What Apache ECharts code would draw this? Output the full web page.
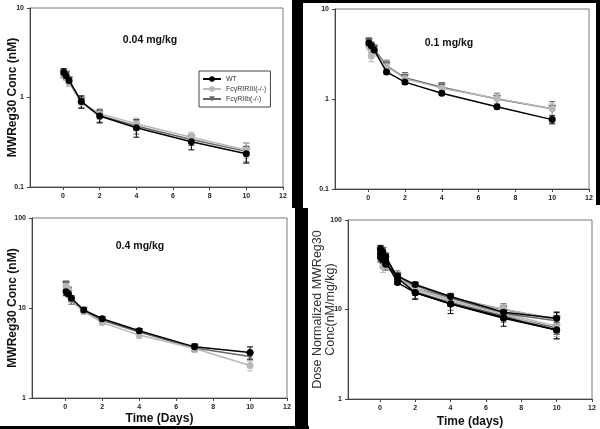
<!DOCTYPE html>
<html>
<head>
<meta charset="utf-8">
<script src="https://cdn.jsdelivr.net/npm/echarts@6/dist/echarts.min.js"></script>
<style>
html,body{margin:0;padding:0;background:#fff;}
#chart{width:600px;height:429px;}
</style>
</head>
<body>
<div id="chart"></div>
<script>
// ---- data ----
const times = [0.04, 0.17, 0.33, 1, 2, 4, 7, 10];
const xTicks = [0, 2, 4, 6, 8, 10, 12];
const seriesNames = ['WT', 'FcγRIRIII(-/-)', 'FcγRIIb(-/-)'];
const panelTitles = ['0.04 mg/kg', '0.1 mg/kg', '0.4 mg/kg', ''];

// 0.04 mg/kg
const wt004 = [1.9, 1.75, 1.55, 0.9, 0.62, 0.46, 0.32, 0.235];
const ri004 = [1.8, 1.7, 1.45, 0.88, 0.66, 0.51, 0.36, 0.26];
const rb004 = [1.85, 1.8, 1.55, 0.9, 0.63, 0.48, 0.34, 0.25];
const wt004Err = [0.2, 0.15, 0.12, 0.14, 0.1, 0.1, 0.06, 0.05];
const ri004Err = [0.15, 0.15, 0.12, 0.12, 0.09, 0.08, 0.05, 0.05];
const rb004Err = [0.18, 0.15, 0.15, 0.14, 0.1, 0.09, 0.05, 0.06];

// 0.1 mg/kg
const wt01 = [4.2, 3.9, 3.5, 2.0, 1.54, 1.16, 0.82, 0.59];
const ri01 = [3.9, 3.0, 3.4, 2.3, 1.68, 1.32, 1.01, 0.78];
const rb01 = [4.3, 3.8, 3.6, 2.35, 1.72, 1.35, 1.0, 0.78];
const wt01Err = [0.3, 0.3, 0.3, 0.1, 0.08, 0.06, 0.04, 0.06];
const ri01Err = [0.4, 0.4, 0.4, 0.3, 0.2, 0.15, 0.12, 0.12];
const rb01Err = [0.5, 0.5, 0.4, 0.35, 0.25, 0.17, 0.16, 0.16];

// 0.4 mg/kg
const wt04 = [15.2, 14.5, 12.8, 9.5, 7.6, 5.6, 3.7, 3.2];
const ri04 = [17.5, 16.0, 12.5, 9.1, 6.9, 5.0, 3.55, 2.3];
const rb04 = [18.0, 15.5, 12.0, 9.3, 7.3, 5.4, 3.6, 2.9];
const wt04Err = [1.5, 1.2, 1.0, 0.5, 0.4, 0.3, 0.3, 0.5];
const ri04Err = [2.0, 1.5, 1.0, 0.5, 0.4, 0.4, 0.35, 0.3];
const rb04Err = [2.0, 1.5, 1.0, 0.5, 0.4, 0.35, 0.3, 0.3];

// dose normalized (nM per mg/kg)
const wtN004 = [47, 44, 39, 22.5, 15.5, 11.5, 8.0, 5.9];
const riN004 = [45, 42, 36, 22, 16.5, 12.8, 9.0, 6.5];
const rbN004 = [46, 45, 39, 22.5, 15.8, 12.0, 8.5, 6.2];
const wtN01 = [42, 39, 35, 20, 15.4, 11.6, 8.2, 5.9];
const riN01 = [39, 30, 34, 23, 16.8, 13.2, 10.1, 7.8];
const rbN01 = [43, 38, 36, 23.5, 17.2, 13.5, 10.0, 7.8];
const wtN04 = [38, 36, 32, 23.7, 19, 14, 9.3, 8.0];
const riN04 = [44, 40, 31, 22.7, 17.3, 12.5, 8.9, 5.8];
const rbN04 = [45, 39, 30, 23, 18.5, 13.5, 9.0, 7.5];
const wtN004Err = [5, 4, 3, 2.5, 2.5, 2.5, 1.5, 1.2];
const riN004Err = [4, 4, 3, 2, 2, 2, 1.2, 1.0];
const rbN004Err = [4, 4, 3, 3, 2.5, 2.2, 1.3, 1.5];
const wtN01Err = [3, 3, 3, 1, 0.8, 0.6, 0.4, 0.6];
const riN01Err = [4, 4, 4, 3, 2, 1.5, 1.2, 1.2];
const rbN01Err = [5, 5, 4, 3.5, 2.5, 1.7, 1.6, 1.6];
const wtN04Err = [4, 3, 2.5, 1.2, 1.0, 0.8, 0.8, 1.3];
const riN04Err = [5, 4, 2.5, 1.2, 1.0, 1.0, 0.9, 0.8];
const rbN04Err = [5, 4, 2.5, 1.2, 1.0, 0.9, 0.8, 0.8];

// ---- styles ----
const colors = ['#000000', '#b8b8b8', '#666666'];
const symbols = ['circle', 'circle', 'triangle'];
const symRot = [0, 0, 180];
const symSizes = [7, 7, 8];

const panels = [
  {grid: {left: 30, top: 8, width: 253, height: 179}, ymin: 0.1, ymax: 10,
   groups: [[wt004, ri004, rb004, wt004Err, ri004Err, rb004Err]]},
  {grid: {left: 335, top: 9, width: 254, height: 180}, ymin: 0.1, ymax: 10,
   groups: [[wt01, ri01, rb01, wt01Err, ri01Err, rb01Err]]},
  {grid: {left: 32, top: 218, width: 255, height: 180}, ymin: 1, ymax: 100,
   groups: [[wt04, ri04, rb04, wt04Err, ri04Err, rb04Err]]},
  {grid: {left: 348, top: 220, width: 244, height: 179}, ymin: 1, ymax: 100,
   groups: [[wtN004, riN004, rbN004, wtN004Err, riN004Err, rbN004Err],
            [wtN01, riN01, rbN01, wtN01Err, riN01Err, rbN01Err],
            [wtN04, riN04, rbN04, wtN04Err, riN04Err, rbN04Err]]}
];

const tickFont = {fontSize: 7, fontWeight: 'bold', color: '#222', fontFamily: 'Liberation Sans'};

const grids = [], xAxes = [], yAxes = [], lineSeries = [], errSeries = [];
panels.forEach((p, gi) => {
  grids.push(Object.assign({show: true, borderColor: '#7a7a7a', borderWidth: 1, containLabel: false}, p.grid));
  xAxes.push({
    type: 'value', gridIndex: gi, min: -1.8, max: 12, nameMoveOverlap: false,
    axisLine: {show: true, onZero: false, lineStyle: {color: '#444', width: 1}},
    axisTick: {show: true, customValues: xTicks, length: 3, lineStyle: {color: '#444'}},
    axisLabel: Object.assign({customValues: xTicks, margin: 6}, tickFont),
    splitLine: {show: false}
  });
  yAxes.push({
    type: 'log', logBase: 10, gridIndex: gi, min: p.ymin, max: p.ymax, nameMoveOverlap: false,
    axisLine: {show: true, onZero: false, lineStyle: {color: '#444', width: 1}},
    axisTick: {show: true, length: 3, lineStyle: {color: '#444'}},
    minorTick: {show: false},
    axisLabel: Object.assign({margin: 6}, tickFont),
    splitLine: {show: false}
  });
  p.groups.forEach(g => {
    [2, 1, 0].forEach(k => {
      const vals = g[k], errs = g[k + 3];
      lineSeries.push({
        type: 'line', name: seriesNames[k], xAxisIndex: gi, yAxisIndex: gi,
        data: times.map((t, i) => [t, vals[i]]),
        symbol: symbols[k], symbolRotate: symRot[k], symbolSize: symSizes[k],
        showAllSymbol: true,
        lineStyle: {color: colors[k], width: 1.5},
        itemStyle: {color: colors[k], borderWidth: 0},
        z: k === 0 ? 5 : 3,
        animation: false
      });
      errSeries.push({
        type: 'custom', name: seriesNames[k] + ' SD', xAxisIndex: gi, yAxisIndex: gi,
        data: times.map((t, i) => [t, vals[i] - errs[i], vals[i] + errs[i]]),
        encode: {x: 0, y: [1, 2]},
        z: 2, silent: true, animation: false,
        renderItem: (params, api) => {
          const x = api.value(0);
          const lo = api.coord([x, api.value(1)]);
          const hi = api.coord([x, api.value(2)]);
          const w = 3;
          const st = {stroke: colors[k], lineWidth: 1};
          return {type: 'group', children: [
            {type: 'line', shape: {x1: lo[0], y1: lo[1], x2: hi[0], y2: hi[1]}, style: st},
            {type: 'line', shape: {x1: lo[0] - w, y1: lo[1], x2: lo[0] + w, y2: lo[1]}, style: st},
            {type: 'line', shape: {x1: hi[0] - w, y1: hi[1], x2: hi[0] + w, y2: hi[1]}, style: st}
          ]};
        }
      });
    });
  });
});

// axis titles
const yTitleStyle = {fontSize: 12, fontWeight: 'bold', color: '#111', fontFamily: 'Liberation Sans'};
yAxes[0].name = 'MWReg30 Conc (nM)';
yAxes[0].nameLocation = 'middle'; yAxes[0].nameGap = 11; yAxes[0].nameTextStyle = yTitleStyle;
yAxes[2].name = 'MWReg30 Conc (nM)';
yAxes[2].nameLocation = 'middle'; yAxes[2].nameGap = 13; yAxes[2].nameTextStyle = yTitleStyle;
yAxes[3].name = 'Dose Normalized MWReg30\nConc(nM/mg/kg)';
yAxes[3].nameLocation = 'middle'; yAxes[3].nameGap = 11;
yAxes[3].nameTextStyle = {fontSize: 12.5, color: '#333', lineHeight: 13, fontFamily: 'Liberation Sans'};
const xTitleStyle = {fontSize: 12, fontWeight: 'bold', color: '#111', fontFamily: 'Liberation Sans'};
xAxes[2].name = 'Time (Days)'; xAxes[2].nameLocation = 'middle'; xAxes[2].nameGap = 15; xAxes[2].nameTextStyle = xTitleStyle;
xAxes[3].name = 'Time (days)'; xAxes[3].nameLocation = 'middle'; xAxes[3].nameGap = 17; xAxes[3].nameTextStyle = xTitleStyle;

const titlePos = [[150, 35], [449, 38], [140, 241]];
const titles = titlePos.map((pos, i) => ({
  text: panelTitles[i], left: pos[0], top: pos[1], textAlign: 'center', padding: 0,
  textStyle: {fontSize: 10.5, fontWeight: 'bold', color: '#111', fontFamily: 'Liberation Sans'}
}));

const blk = {fill: '#000'};
const option = {
  backgroundColor: '#fff',
  animation: false,
  title: titles,
  legend: {
    data: seriesNames, left: 199, top: 71, orient: 'vertical',
    padding: [4, 4, 4, 3], itemGap: 2, itemWidth: 18, itemHeight: 7,
    borderColor: '#444', borderWidth: 1, selectedMode: false,
    textStyle: {fontSize: 7, color: '#333', fontFamily: 'Liberation Sans', lineHeight: 8}
  },
  grid: grids, xAxis: xAxes, yAxis: yAxes,
  series: lineSeries.concat(errSeries),
  graphic: [
    {type: 'rect', shape: {x: 292, y: 0, width: 11, height: 208}, style: blk, z: 100},
    {type: 'rect', shape: {x: 295, y: 208, width: 13, height: 221}, style: blk, z: 100},
    {type: 'rect', shape: {x: 303, y: 0, width: 297, height: 3}, style: blk, z: 100},
    {type: 'rect', shape: {x: 596, y: 0, width: 4, height: 205}, style: blk, z: 100},
    {type: 'rect', shape: {x: 0, y: 426, width: 309, height: 3}, style: blk, z: 100}
  ]
};

const chart = echarts.init(document.getElementById('chart'), null, {renderer: 'canvas'});
chart.setOption(option);
</script>
</body>
</html>
